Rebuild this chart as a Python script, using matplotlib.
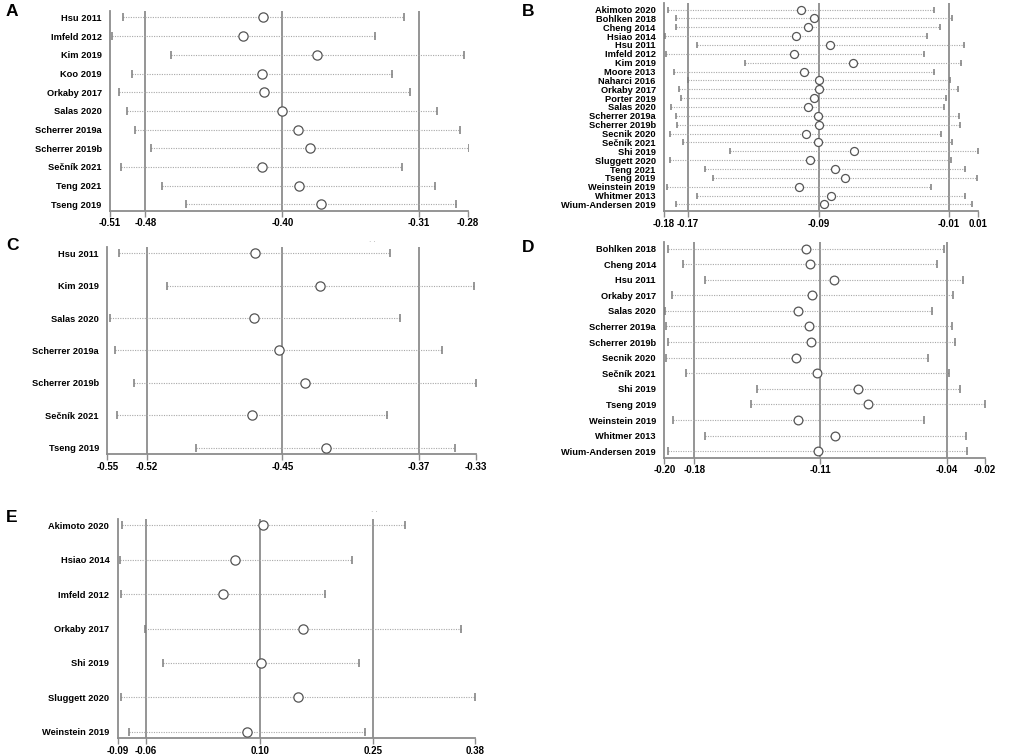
import matplotlib
matplotlib.use("Agg")
import matplotlib.pyplot as plt

plt.rcParams['font.family'] = ['Liberation Sans', 'DejaVu Sans']

# ---- data: leave-one-out estimates (lower CI, estimate, upper CI) ----
# Panel A
studies_A = ["Hsu 2011", "Imfeld 2012", "Kim 2019", "Koo 2019", "Orkaby 2017", "Salas 2020",
             "Scherrer 2019a", "Scherrer 2019b", "Sečník 2021", "Teng 2021", "Tseng 2019"]
lower_A = [-0.5016, -0.5085, -0.4710, -0.4959, -0.5044, -0.4989, -0.4939, -0.4837, -0.5031, -0.4768, -0.4614]
est_A = [-0.4117, -0.4247, -0.3768, -0.4123, -0.4109, -0.3993, -0.3894, -0.3817, -0.4125, -0.3888, -0.3744]
upper_A = [-0.3213, -0.3396, -0.2824, -0.3286, -0.3171, -0.3001, -0.2851, -0.2796, -0.3222, -0.3012, -0.2875]
overall_A = [-0.4873, -0.3993, -0.3115]
range_A = [-0.51, -0.28]
ticklabels_A = ["-0.51", "-0.48", "-0.40", "-0.31", "-0.28"]

# Panel B
studies_B = ["Akimoto 2020", "Bohlken 2018", "Cheng 2014", "Hsiao 2014", "Hsu 2011", "Imfeld 2012",
             "Kim 2019", "Moore 2013", "Naharci 2016", "Orkaby 2017", "Porter 2019", "Salas 2020",
             "Scherrer 2019a", "Scherrer 2019b", "Secnik 2020", "Sečník 2021", "Shi 2019",
             "Sluggett 2020", "Teng 2021", "Tseng 2019", "Weinstein 2019", "Whitmer 2013",
             "Wium-Andersen 2019"]
lower_B = [-0.1778, -0.1729, -0.1727, -0.1796, -0.1598, -0.1788, -0.1310, -0.1737, -0.1653, -0.1709,
           -0.1695, -0.1758, -0.1727, -0.1721, -0.1762, -0.1683, -0.1399, -0.1766, -0.1552, -0.1503,
           -0.1782, -0.1602, -0.1725]
est_B = [-0.0971, -0.0894, -0.0929, -0.0999, -0.0794, -0.1013, -0.0654, -0.0953, -0.0860, -0.0864,
         -0.0894, -0.0929, -0.0870, -0.0864, -0.0943, -0.0866, -0.0648, -0.0915, -0.0763, -0.0703,
         -0.0983, -0.0791, -0.0832]
upper_B = [-0.0168, -0.0059, -0.0132, -0.0207, 0.0013, -0.0229, -0.0001, -0.0168, -0.0067, -0.0021,
           -0.0094, -0.0108, -0.0015, -0.0011, -0.0124, -0.0055, 0.0102, -0.0065, 0.0023, 0.0096,
           -0.0184, 0.0019, 0.0064]
overall_B = [-0.1655, -0.0862, -0.0077]
range_B = [-0.18, 0.01]
ticklabels_B = ["-0.18", "-0.17", "-0.09", "-0.01", "0.01"]

# Panel C
studies_C = ["Hsu 2011", "Kim 2019", "Salas 2020", "Scherrer 2019a", "Scherrer 2019b", "Sečník 2021", "Tseng 2019"]
lower_C = [-0.5430, -0.5146, -0.5484, -0.5454, -0.5339, -0.5444, -0.4971]
est_C = [-0.4621, -0.4229, -0.4625, -0.4478, -0.4322, -0.4637, -0.4197]
upper_C = [-0.3813, -0.3314, -0.3755, -0.3501, -0.3302, -0.3831, -0.3425]
overall_C = [-0.5265, -0.4456, -0.3640]
range_C = [-0.55, -0.33]
ticklabels_C = ["-0.55", "-0.52", "-0.45", "-0.37", "-0.33"]

# Panel D
studies_D = ["Bohlken 2018", "Cheng 2014", "Hsu 2011", "Orkaby 2017", "Salas 2020", "Scherrer 2019a",
             "Scherrer 2019b", "Secnik 2020", "Sečník 2021", "Shi 2019", "Tseng 2019",
             "Weinstein 2019", "Whitmer 2013", "Wium-Andersen 2019"]
lower_D = [-0.1979, -0.1897, -0.1772, -0.1957, -0.1996, -0.1991, -0.1978, -0.1993, -0.1878, -0.1482,
           -0.1515, -0.1953, -0.1772, -0.1978]
est_D = [-0.1207, -0.1184, -0.1049, -0.1169, -0.1248, -0.1186, -0.1175, -0.1259, -0.1141, -0.0913,
         -0.0859, -0.1248, -0.1040, -0.1139]
upper_D = [-0.0432, -0.0471, -0.0325, -0.0380, -0.0498, -0.0383, -0.0370, -0.0522, -0.0402, -0.0342,
           -0.0200, -0.0542, -0.0309, -0.0301]
overall_D = [-0.1832, -0.1124, -0.0413]
range_D = [-0.20, -0.02]
ticklabels_D = ["-0.20", "-0.18", "-0.11", "-0.04", "-0.02"]

# Panel E
studies_E = ["Akimoto 2020", "Hsiao 2014", "Imfeld 2012", "Orkaby 2017", "Shi 2019", "Sluggett 2020", "Weinstein 2019"]
lower_E = [-0.0843, -0.0869, -0.0856, -0.0540, -0.0303, -0.0861, -0.0746]
est_E = [0.1018, 0.0645, 0.0491, 0.1536, 0.0991, 0.1470, 0.0807]
upper_E = [0.2878, 0.2189, 0.1834, 0.3616, 0.2282, 0.3800, 0.2361]
overall_E = [-0.0527, 0.0969, 0.2466]
range_E = [-0.09, 0.38]
ticklabels_E = ["-0.09", "-0.06", "0.10", "0.25", "0.38"]

W, H = 1021, 755
fig = plt.figure(figsize=(W / 100, H / 100), dpi=100)

GRAY = "#8c8c8c"


def panel(box, studies, lower, est, upper, overall, xr, ticklabels, marker_px, dots=None):
    x0, x1, y0, y1 = box
    ax = fig.add_axes([x0 / W, 1 - y1 / H, (x1 - x0) / W, (y1 - y0) / H])
    n = len(studies)
    pad_px = 6.5
    step = (y1 - y0 - 2 * pad_px) / (n - 1)
    pad = pad_px / step
    ax.set_ylim(n - 1 + pad, -pad)
    ax.set_xlim(xr[0], xr[1])

    # overall estimate and its confidence limits
    for v in overall:
        ax.axvline(v, color=GRAY, lw=1.3, zorder=1)

    for i in range(n):
        ax.plot([lower[i], upper[i]], [i, i], ls=(0, (1, 1.2)), color="#a8a8a8", lw=0.8, zorder=2)
        ax.plot([lower[i], upper[i]], [i, i], ls="none", marker="|", ms=marker_px * 0.62,
                mew=1.1, color="#7a7a7a", zorder=3)
    ax.plot(est, range(n), ls="none", marker="o", ms=marker_px * 0.74, mfc="white",
            mec="#555555", mew=0.9, zorder=4)

    ax.set_yticks(range(n))
    ax.set_yticklabels(studies, fontsize=6.7, fontweight="bold")
    ax.tick_params(axis="y", length=0, pad=6)

    ticks = [xr[0]] + list(overall) + [xr[1]]
    ax.set_xticks(ticks)
    ax.set_xticklabels(ticklabels, fontsize=7, fontweight="bold")
    ax.tick_params(axis="x", length=4, width=1, color=GRAY, pad=1.5)

    for s in ["top", "right"]:
        ax.spines[s].set_visible(False)
    for s in ["left", "bottom"]:
        ax.spines[s].set_color(GRAY)
        ax.spines[s].set_linewidth(1.3)

    if dots is not None:
        fig.text(dots[0] / W, 1 - dots[1] / H, "· ·", fontsize=5, color="#999999",
                 ha="center", va="center")
    return ax


panel((110, 468, 11, 210.7), studies_A, lower_A, est_A, upper_A, overall_A, range_A, ticklabels_A, 9)
panel((664, 978, 3, 211), studies_B, lower_B, est_B, upper_B, overall_B, range_B, ticklabels_B, 7.8)
panel((107.3, 476, 246.8, 454), studies_C, lower_C, est_C, upper_C, overall_C, range_C, ticklabels_C, 9,
      dots=(372, 242))
panel((664.3, 985, 242, 457.7), studies_D, lower_D, est_D, upper_D, overall_D, range_D, ticklabels_D, 8.5)
panel((117.7, 474.7, 518.8, 738.3), studies_E, lower_E, est_E, upper_E, overall_E, range_E, ticklabels_E, 9,
      dots=(374, 513))

# panel letters
letters = ["A", "B", "C", "D", "E"]
letter_pos = [(6, 11), (522, 11), (6, 246), (522, 248), (6, 517)]
for letter, (lx, ly) in zip(letters, letter_pos):
    fig.text(lx / W, 1 - ly / H, letter, fontsize=12.5, fontweight="bold", ha="left", va="center")

fig.savefig("out.png", dpi=100)
